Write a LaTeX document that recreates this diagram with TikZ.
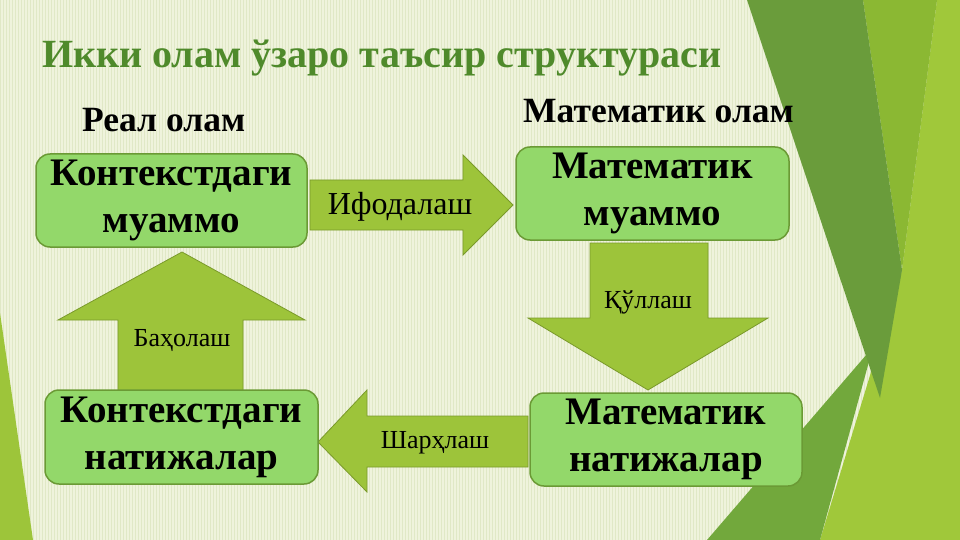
\documentclass[tikz,border=0pt]{standalone}
\usepackage{fontspec}
\setmainfont{Liberation Serif}
\definecolor{bgc}{HTML}{EFF3DC}
\definecolor{stripec}{HTML}{E0E8C6}
\definecolor{boxfill}{HTML}{93D86A}
\definecolor{boxline}{HTML}{6B9A35}
\definecolor{arrfill}{HTML}{9DC43A}
\definecolor{arrline}{HTML}{7A9A2A}
\definecolor{titlec}{HTML}{4F8A2B}
\definecolor{darkg}{HTML}{6A9C3B}
\definecolor{midg}{HTML}{8BB833}
\definecolor{lightg}{HTML}{A0C83A}
\definecolor{medg}{HTML}{72A83C}
\definecolor{leftg}{HTML}{9DC53A}
\tikzset{
  stripe/.style={stripec, line width=1pt},
  mbox/.style={draw=boxline, line width=1.5pt, fill=boxfill, rounded corners=14pt,
    align=center, font=\bfseries\fontsize{39}{47}\selectfont, inner sep=0pt},
  barrow/.style={draw=arrline, line width=0.8pt, fill=arrfill},
  alabel/.style={font=\fontsize{26}{28}\selectfont},
  head/.style={font=\bfseries\fontsize{35.5}{38}\selectfont, anchor=base west}
}
\begin{document}
\begin{tikzpicture}[x=1pt,y=-1pt]
\useasboundingbox (0,0) rectangle (960,540);
% background
\fill[bgc] (0,0) rectangle (960,540);
\foreach \x in {0,3,...,960} \draw[stripe] (\x,0) -- (\x,540);
% right facets
\fill[lightg] (937,0) -- (960,0) -- (960,540) -- (820,540) -- (902,270) -- cycle;
\fill[medg] (707,540) -- (873,347) -- (820,540) -- cycle;
\fill[midg] (863,0) -- (937,0) -- (902,270) -- cycle;
\fill[darkg] (747,0) -- (863,0) -- (902,270) -- (880,398) -- cycle;
% left facet
\fill[leftg] (0,313) -- (33,540) -- (0,540) -- cycle;
% titles
\node[anchor=base west, text=titlec, font=\bfseries\fontsize{40}{42}\selectfont, inner sep=0pt]
  (title) at (42,68) {Икки олам ўзаро таъсир структураси};
\node[head, inner sep=0pt] (real) at (82,132) {Реал олам};
\node[head, inner sep=0pt] (math) at (523,123) {Математик олам};
% block arrows
\draw[barrow] (310,180) -- (463,180) -- (463,155) -- (513,205) -- (463,255) -- (463,230) -- (310,230) -- cycle;
\draw[barrow] (590,243) -- (708,243) -- (708,318) -- (768,318) -- (648,390) -- (528,318) -- (590,318) -- cycle;
\draw[barrow] (528,416) -- (367,416) -- (367,390) -- (318,442) -- (367,492) -- (367,467) -- (528,467) -- cycle;
\draw[barrow] (118,392) -- (118,320) -- (58,320) -- (182,252) -- (305,320) -- (243,320) -- (243,392) -- cycle;
% boxes
\node[mbox, minimum width=271pt, minimum height=93pt] (b1) at (171.5,200.5) {Контекстдаги\\муаммо};
\node[mbox, minimum width=273pt, minimum height=93pt] (b2) at (652.5,193.5) {Математик\\муаммо};
\node[mbox, minimum width=272pt, minimum height=93pt] (b3) at (666,439.5) {Математик\\натижалар};
\node[mbox, minimum width=273pt, minimum height=94pt] (b4) at (181.5,437) {Контекстдаги\\натижалар};
% arrow labels
\node[font=\fontsize{32}{34}\selectfont] (l1) at (400,207) {Ифодалаш};
\node[alabel] (l2) at (648,302) {Қўллаш};
\node[alabel] (l3) at (435,443) {Шарҳлаш};
\node[alabel] (l4) at (182,340) {Баҳолаш};
\end{tikzpicture}
\end{document}
